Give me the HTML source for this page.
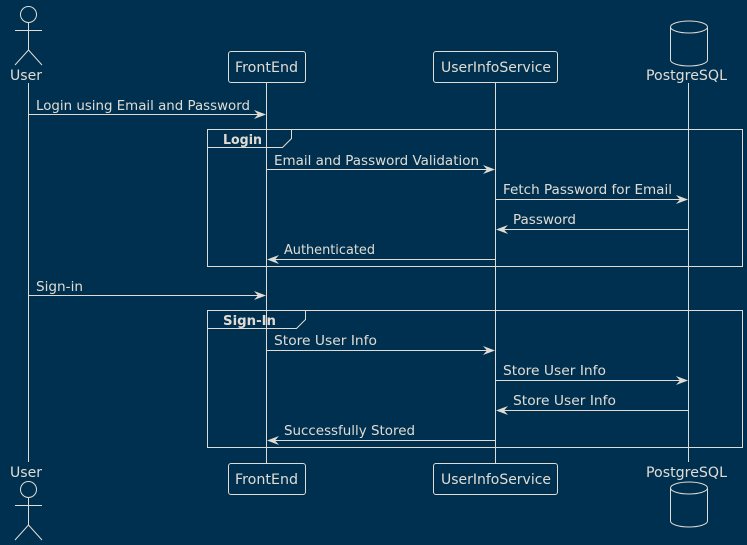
<html><body style="margin:0;background:#00304f">
<svg width="747" height="545" xmlns="http://www.w3.org/2000/svg" style="display:block;font-family:'DejaVu Sans',sans-serif">
<rect width="747" height="545" fill="#00304f"/>
<g stroke="#e0dcd4" fill="none" stroke-width="1">
<!-- lifelines -->
<line x1="28.5" y1="83" x2="28.5" y2="462"/>
<line x1="266.5" y1="82" x2="266.5" y2="463"/>
<line x1="495.5" y1="82" x2="495.5" y2="463"/>
<line x1="688.5" y1="83" x2="688.5" y2="462"/>
<!-- top actor -->
<circle cx="28.5" cy="14.5" r="8"/>
<line x1="28.5" y1="22.5" x2="28.5" y2="50"/>
<line x1="15" y1="30.5" x2="42" y2="30.5"/>
<polyline points="15,65 28.5,50 42,65"/>
<!-- bottom actor -->
<circle cx="28.5" cy="489.5" r="8"/>
<line x1="28.5" y1="497.5" x2="28.5" y2="525"/>
<line x1="15" y1="505.5" x2="42" y2="505.5"/>
<polyline points="15,540 28.5,525 42,540"/>
<!-- boxes -->
<rect x="228.5" y="51.5" width="77" height="31" rx="2.5"/>
<rect x="433.5" y="51.5" width="124" height="31" rx="2.5"/>
<rect x="228.5" y="463.5" width="77" height="31" rx="2.5"/>
<rect x="433.5" y="463.5" width="124" height="31" rx="2.5"/>
<!-- db -->
<path d="M670.5,27 a18.5,6 0 0 1 37,0 v33 a18.5,6 0 0 1 -37,0 z"/>
<path d="M670.5,27 a18.5,6 0 0 0 37,0"/>
<path d="M670.5,488 a18.5,6 0 0 1 37,0 v33 a18.5,6 0 0 1 -37,0 z"/>
<path d="M670.5,488 a18.5,6 0 0 0 37,0"/>
<!-- frames -->
<rect x="207.5" y="129.5" width="535" height="137"/>
<polyline points="207.5,147.5 282.5,147.5 291.5,138.5 291.5,129.5"/>
<rect x="207.5" y="310.5" width="535" height="137"/>
<polyline points="207.5,328.5 296.5,328.5 305.5,319.5 305.5,310.5"/>
<!-- messages -->
<line x1="28.5" y1="114.5" x2="264" y2="114.5"/>
<line x1="266.5" y1="169.5" x2="493" y2="169.5"/>
<line x1="495.5" y1="199.5" x2="686" y2="199.5"/>
<line x1="688.5" y1="229.5" x2="498" y2="229.5"/>
<line x1="495.5" y1="259.5" x2="269" y2="259.5"/>
<line x1="28.5" y1="295.5" x2="264" y2="295.5"/>
<line x1="266.5" y1="350.5" x2="493" y2="350.5"/>
<line x1="495.5" y1="380.5" x2="686" y2="380.5"/>
<line x1="688.5" y1="410.5" x2="498" y2="410.5"/>
<line x1="495.5" y1="440.5" x2="269" y2="440.5"/>
</g>
<g fill="#e0dcd4">
<polygon points="266,114.5 254,110 258,114.5 254,119"/>
<polygon points="495,169.5 483,165 487,169.5 483,174"/>
<polygon points="688,199.5 676,195 680,199.5 676,204"/>
<polygon points="496,229.5 508,225 504,229.5 508,234"/>
<polygon points="267,259.5 279,255 275,259.5 279,264"/>
<polygon points="266,295.5 254,291 258,295.5 254,300"/>
<polygon points="495,350.5 483,346 487,350.5 483,355"/>
<polygon points="688,380.5 676,376 680,380.5 676,385"/>
<polygon points="496,410.5 508,406 504,410.5 508,415"/>
<polygon points="267,440.5 279,436 275,440.5 279,445"/>
</g>
<g fill="#e0dcd4" font-size="14">
<text x="10" y="80" textLength="32" lengthAdjust="spacingAndGlyphs">User</text>
<text x="10" y="477" textLength="32" lengthAdjust="spacingAndGlyphs">User</text>
<text x="235" y="72" textLength="63" lengthAdjust="spacingAndGlyphs">FrontEnd</text>
<text x="235" y="484" textLength="63" lengthAdjust="spacingAndGlyphs">FrontEnd</text>
<text x="441" y="72" textLength="110" lengthAdjust="spacingAndGlyphs">UserInfoService</text>
<text x="441" y="484" textLength="110" lengthAdjust="spacingAndGlyphs">UserInfoService</text>
<text x="646" y="80" textLength="81" lengthAdjust="spacingAndGlyphs">PostgreSQL</text>
<text x="646" y="477" textLength="81" lengthAdjust="spacingAndGlyphs">PostgreSQL</text>
</g>
<g fill="#e0dcd4" font-size="13" font-weight="bold">
<text x="223" y="144" textLength="39" lengthAdjust="spacingAndGlyphs">Login</text>
<text x="223" y="325" textLength="53" lengthAdjust="spacingAndGlyphs">Sign-In</text>
</g>
<g fill="#e0dcd4" font-size="13">
<text x="36" y="110" textLength="214" lengthAdjust="spacingAndGlyphs">Login using Email and Password</text>
<text x="274" y="165" textLength="205" lengthAdjust="spacingAndGlyphs">Email and Password Validation</text>
<text x="503" y="194" textLength="169" lengthAdjust="spacingAndGlyphs">Fetch Password for Email</text>
<text x="513" y="224" textLength="63" lengthAdjust="spacingAndGlyphs">Password</text>
<text x="284" y="254" textLength="91" lengthAdjust="spacingAndGlyphs">Authenticated</text>
<text x="36" y="291" textLength="47" lengthAdjust="spacingAndGlyphs">Sign-in</text>
<text x="274" y="345" textLength="103" lengthAdjust="spacingAndGlyphs">Store User Info</text>
<text x="503" y="375" textLength="103" lengthAdjust="spacingAndGlyphs">Store User Info</text>
<text x="513" y="405" textLength="103" lengthAdjust="spacingAndGlyphs">Store User Info</text>
<text x="284" y="435" textLength="131" lengthAdjust="spacingAndGlyphs">Successfully Stored</text>
</g>
</svg>
</body></html>
